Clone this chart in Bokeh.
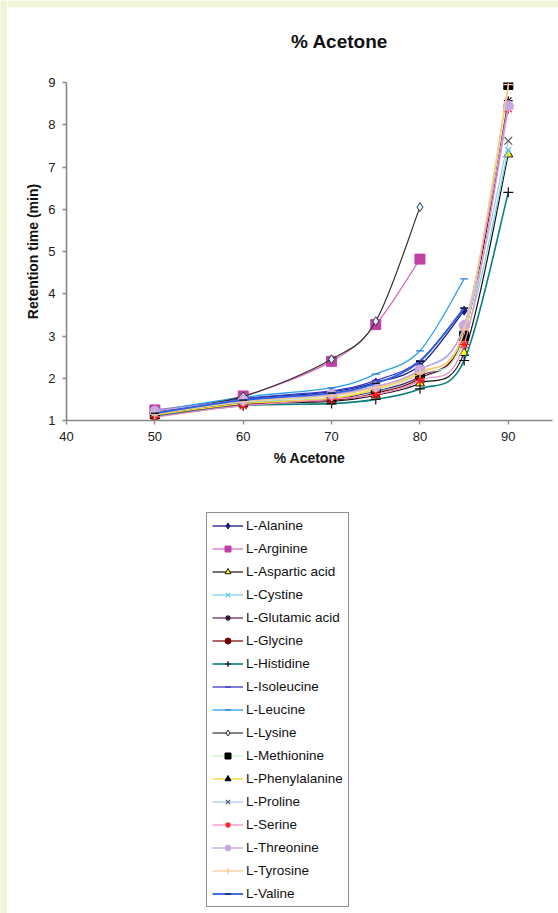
import math
from bokeh.plotting import figure
from bokeh.layouts import column, row
from bokeh.models import Range1d, FixedTicker, Legend, LegendItem, Label, ColumnDataSource
from bokeh.embed import file_html
from bokeh.resources import INLINE

NaN = float("nan")

# % acetone in mobile phase
acetone = [50, 60, 70, 75, 80, 85, 90]

# retention time (min)
alanine       = [1.18, 1.50, 1.68, 1.90, 2.30, 3.60, NaN]
arginine      = [1.25, 1.58, 2.40, 3.27, 4.82, NaN, NaN]
aspartic_acid = [1.10, 1.38, 1.45, 1.60, 1.88, 2.60, 7.30]
cystine       = [1.15, 1.42, 1.52, 1.68, 2.00, 2.90, 7.40]
glutamic_acid = [1.12, 1.38, 1.50, 1.70, 2.05, 3.05, 8.57]
glycine       = [1.12, 1.40, 1.48, 1.65, 2.00, 3.05, 8.45]
histidine     = [1.10, 1.35, 1.40, 1.50, 1.75, 2.42, 6.40]
isoleucine    = [1.20, 1.52, 1.70, 1.95, 2.42, 3.66, NaN]
leucine       = [1.22, 1.55, 1.77, 2.10, 2.65, 4.35, NaN]
lysine        = [1.20, 1.57, 2.45, 3.35, 6.05, NaN, NaN]
methionine    = [1.15, 1.45, 1.55, 1.72, 2.10, 3.00, 8.95]
phenylalanine = [1.13, 1.40, 1.52, 1.75, 2.15, 3.10, 8.90]
proline       = [1.18, 1.45, 1.60, 1.80, 2.20, 3.20, 7.62]
serine        = [1.08, 1.35, 1.50, 1.62, 1.95, 2.80, 8.38]
threonine     = [1.22, 1.48, 1.62, 1.80, 2.20, 3.25, 8.45]
tyrosine      = [1.15, 1.45, 1.58, 1.78, 2.12, 3.15, 8.95]
valine        = [1.17, 1.48, 1.65, 1.88, 2.40, 3.66, NaN]

names = ["L-Alanine", "L-Arginine", "L-Aspartic acid", "L-Cystine", "L-Glutamic acid",
         "L-Glycine", "L-Histidine", "L-Isoleucine", "L-Leucine", "L-Lysine",
         "L-Methionine", "L-Phenylalanine", "L-Proline", "L-Serine", "L-Threonine",
         "L-Tyrosine", "L-Valine"]
values = [alanine, arginine, aspartic_acid, cystine, glutamic_acid, glycine, histidine,
          isoleucine, leucine, lysine, methionine, phenylalanine, proline, serine,
          threonine, tyrosine, valine]

x_ticks = [40, 50, 60, 70, 80, 90]
y_ticks = [1, 2, 3, 4, 5, 6, 7, 8, 9]

# (line colour, marker, marker fill, marker line, marker size, line width)
styles = [
    ("#1a1a80", "diamond", "#1a1a80", "#1a1a80", 9, 1.3),
    ("#d665bd", "square", "#c240a4", "#c240a4", 10, 1.2),
    ("#111111", "triangle", "#ffff00", "#111111", 9, 1.2),
    ("#74d4e6", "x", None, "#5cc8e8", 8, 1.2),
    ("#5c1a5c", "asterisk", None, "#2a102a", 9, 1.2),
    ("#7a0000", "circle", "#7a0000", "#7a0000", 8, 1.2),
    ("#0a7f80", "cross", None, "#111111", 10, 1.6),
    ("#3a3ac8", "dash", None, "#3a3ac8", 8, 1.3),
    ("#2ea0e6", "dash", None, "#2a7fd8", 8, 1.3),
    ("#333333", "diamond", "#d8f2ff", "#333333", 9, 1.2),
    ("#c8eec8", "square", "#000000", "#000000", 9, 1.2),
    ("#f2dc3a", "triangle", "#000000", "#000000", 9, 1.4),
    ("#9cc8f2", "x", None, "#555555", 11, 1.2),
    ("#f28ac4", "asterisk", None, "#ff1a1a", 10, 1.2),
    ("#c4a2e2", "circle", "#c8a8e0", "#c8a8e0", 10, 1.3),
    ("#f8c890", "cross", None, "#f8c890", 10, 1.2),
    ("#2f5fe0", "dash", None, "#111111", 8, 1.8),
]

GREEN = "#eef4d6"
FONT = "Liberation Sans"


def smooth_segments(xs, ys):
    pts = [(x, y) for x, y in zip(xs, ys) if not math.isnan(y)]
    cols = {k: [] for k in ("x0", "y0", "x1", "y1", "cx0", "cy0", "cx1", "cy1")}
    n = len(pts)
    for i in range(n - 1):
        p0 = pts[i - 1] if i > 0 else pts[i]
        p1 = pts[i]
        p2 = pts[i + 1]
        p3 = pts[i + 2] if i + 2 < n else pts[i + 1]
        cols["x0"].append(p1[0]); cols["y0"].append(p1[1])
        cols["x1"].append(p2[0]); cols["y1"].append(p2[1])
        cols["cx0"].append(p1[0] + (p2[0] - p0[0]) / 6.0)
        cols["cy0"].append(p1[1] + (p2[1] - p0[1]) / 6.0)
        cols["cx1"].append(p2[0] - (p3[0] - p1[0]) / 6.0)
        cols["cy1"].append(p2[1] - (p3[1] - p1[1]) / 6.0)
    return cols


def blank(width, height, **kw):
    f = figure(width=width, height=height, output_backend="svg", toolbar_location=None,
               x_axis_location=None, y_axis_location=None, min_border=0,
               frame_align=False, **kw)
    f.grid.visible = False
    f.outline_line_color = None
    f.background_fill_color = "white"
    f.border_fill_color = "white"
    return f


# green strip on the left
strip = blank(7, 913, x_range=Range1d(0, 1), y_range=Range1d(0, 1))
strip.background_fill_color = GREEN
strip.border_fill_color = GREEN

# title area
head = blank(551, 68, x_range=Range1d(0, 551), y_range=Range1d(0, 61), min_border_top=7)
head.border_fill_color = GREEN
head.add_layout(Label(x=332, y=27, text="% Acetone", text_font=FONT, text_font_size="19px",
                      text_font_style="bold", text_align="center", text_baseline="middle",
                      text_color="#111111"))

# main chart
p = figure(width=551, height=412, output_backend="svg", toolbar_location=None,
           x_range=Range1d(40, 95), y_range=Range1d(1, 9), frame_align=False,
           min_border_left=59, min_border_right=6, min_border_top=14, min_border_bottom=60)
p.background_fill_color = "white"
p.border_fill_color = "white"
p.outline_line_color = None
p.grid.visible = False

for ax in (p.xaxis[0], p.yaxis[0]):
    ax.axis_line_color = "#878787"
    ax.axis_line_width = 1.6
    ax.major_tick_line_color = "#878787"
    ax.major_tick_line_width = 1.3
    ax.major_tick_out = 4
    ax.major_tick_in = 0
    ax.minor_tick_line_color = None
    ax.major_label_text_font = FONT
    ax.major_label_text_font_size = "13px"
    ax.major_label_text_color = "#222222"
    ax.major_label_standoff = 7
    ax.axis_label_text_font = FONT
    ax.axis_label_text_font_size = "14px"
    ax.axis_label_text_font_style = "bold"
    ax.axis_label_text_color = "#111111"

p.xaxis.ticker = FixedTicker(ticks=x_ticks)
p.yaxis.ticker = FixedTicker(ticks=y_ticks)
p.xaxis.axis_label = "% Acetone"
p.xaxis.axis_label_standoff = 6
p.yaxis.axis_label = "Retention time (min)"
p.yaxis.axis_label_standoff = 4

# legend area (swatch renderers sit outside its visible range)
leg_fig = blank(551, 433, x_range=Range1d(0, 1), y_range=Range1d(0, 1),
                min_border_left=199, min_border_top=32)

items = []
for name, ys, st in zip(names, values, styles):
    lc, mk, mfill, mline, msize, lw = st
    fill = mfill if mfill else mline
    mlw = 1.2 if mk in ("x", "asterisk", "cross", "dash") else 1
    seg = ColumnDataSource(smooth_segments(acetone, ys))
    p.bezier(x0="x0", y0="y0", x1="x1", y1="y1", cx0="cx0", cy0="cy0",
             cx1="cx1", cy1="cy1", source=seg, line_color=lc, line_width=lw)
    xs = [x for x, y in zip(acetone, ys) if not math.isnan(y)]
    yv = [y for y in ys if not math.isnan(y)]
    p.scatter(xs, yv, marker=mk, size=msize, fill_color=fill, line_color=mline, line_width=mlw)
    # legend swatches (same data; the legend panel's range keeps them out of view)
    l_line = leg_fig.line(xs, yv, line_color=lc, line_width=lw)
    l_pts = leg_fig.scatter(xs, yv, marker=mk, size=msize - 1, fill_color=fill,
                            line_color=mline, line_width=mlw)
    items.append(LegendItem(label=name, renderers=[l_line, l_pts]))

legend = Legend(items=items, location="top_left", orientation="vertical",
                border_line_color="#222222", border_line_width=1,
                background_fill_color="white", background_fill_alpha=1.0,
                label_text_font=FONT, label_text_font_size="13.5px", label_text_color="#111111",
                glyph_width=31, glyph_height=15, label_height=15, spacing=8,
                padding=5, label_standoff=3, margin=0)
leg_fig.add_layout(legend, "center")

layout = row(strip, column(head, p, leg_fig))

open("out.html", "w").write(file_html(layout, INLINE))
